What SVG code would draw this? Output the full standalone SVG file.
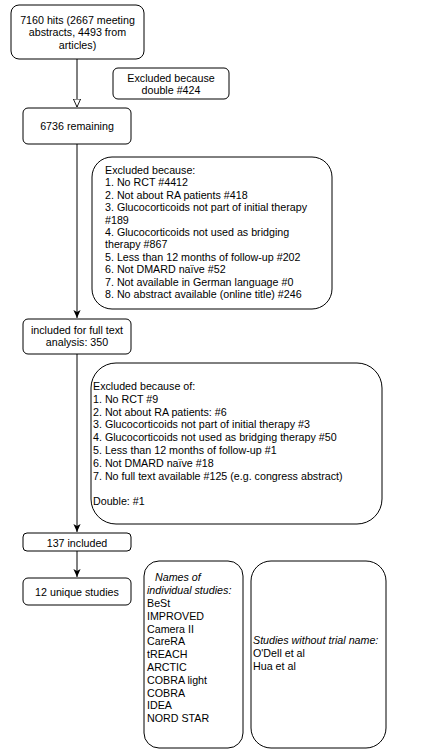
<svg xmlns="http://www.w3.org/2000/svg" width="431" height="755" viewBox="0 0 431 755">
<defs>
<style>
.b{fill:#fff;stroke:#000;stroke-width:1}
.t{font-family:"Liberation Sans",Arial,sans-serif;font-size:10.7px;fill:#000}
.c{text-anchor:middle}
.i{font-style:italic}
.l{fill:none;stroke:#000;stroke-width:1}
</style>
<marker id="open" viewBox="0 0 10 10" refX="10" refY="5" markerWidth="8" markerHeight="9" markerUnits="userSpaceOnUse" orient="auto">
<path d="M0,0.5 L10,5 L0,9.5 Z" fill="#fff" stroke="#000" stroke-width="1.1"/>
</marker>
<marker id="arr" viewBox="0 0 10 10" refX="10" refY="5" markerWidth="8" markerHeight="8" markerUnits="userSpaceOnUse" orient="auto">
<path d="M0,0.5 L10,5 L0,9.5 L2.5,5 Z" fill="#000"/>
</marker>
</defs>
<rect width="431" height="755" fill="#fff"/>
<g id="connectors">
<line class="l" x1="77" y1="59" x2="77" y2="107" marker-end="url(#open)"/>
<line class="l" x1="77" y1="144" x2="77" y2="318" marker-end="url(#arr)"/>
<line class="l" x1="77" y1="354" x2="77" y2="532" marker-end="url(#arr)"/>
<line class="l" x1="77" y1="551" x2="77" y2="577" marker-end="url(#arr)"/>
</g>
<g id="hits">
<rect class="b" x="11" y="5" width="133" height="54" rx="8"/>
<text class="t c" x="77.5" y="23.5">7160 hits (2667 meeting</text>
<text class="t c" x="77.5" y="36">abstracts, 4493 from</text>
<text class="t c" x="77.5" y="48.5">articles)</text>
</g>
<g id="excluded-double">
<rect class="b" x="113" y="68" width="116" height="31" rx="5"/>
<text class="t c" x="171" y="81.5">Excluded because</text>
<text class="t c" x="171" y="93.5">double #424</text>
</g>
<g id="remaining">
<rect class="b" x="23" y="108" width="108" height="36" rx="5"/>
<text class="t c" x="77" y="130">6736 remaining</text>
</g>
<g id="excluded-1">
<rect class="b" x="92" y="157" width="240" height="152" rx="20"/>
<text class="t" x="105" y="174">Excluded because:</text>
<text class="t" x="105" y="186.4">1. No RCT #4412</text>
<text class="t" x="105" y="198.8">2. Not about RA patients #418</text>
<text class="t" x="105" y="211.2">3. Glucocorticoids not part of initial therapy</text>
<text class="t" x="105" y="223.6">#189</text>
<text class="t" x="105" y="236">4. Glucocorticoids not used as bridging</text>
<text class="t" x="105" y="248.4">therapy #867</text>
<text class="t" x="105" y="260.8">5. Less than 12 months of follow-up #202</text>
<text class="t" x="105" y="273.2">6. Not DMARD naïve #52</text>
<text class="t" x="105" y="285.6">7. Not available in German language #0</text>
<text class="t" x="105" y="298">8. No abstract available (online title) #246</text>
</g>
<g id="fulltext">
<rect class="b" x="23" y="319" width="108" height="35" rx="5"/>
<text class="t c" x="77" y="333.5">included for full text</text>
<text class="t c" x="77" y="346">analysis: 350</text>
</g>
<g id="excluded-2">
<rect class="b" x="91" y="363" width="291" height="161" rx="25"/>
<text class="t" x="93" y="390">Excluded because of:</text>
<text class="t" x="93" y="402.8">1. No RCT #9</text>
<text class="t" x="93" y="415.6">2. Not about RA patients: #6</text>
<text class="t" x="93" y="428.4">3. Glucocorticoids not part of initial therapy #3</text>
<text class="t" x="93" y="441.2">4. Glucocorticoids not used as bridging therapy #50</text>
<text class="t" x="93" y="454">5. Less than 12 months of follow-up #1</text>
<text class="t" x="93" y="466.8">6. Not DMARD naïve #18</text>
<text class="t" x="93" y="479.6">7. No full text available #125 (e.g. congress abstract)</text>
<text class="t" x="93" y="505.2">Double: #1</text>
</g>
<g id="included">
<rect class="b" x="23" y="533" width="108" height="18" rx="4"/>
<text class="t c" x="77" y="546.5">137 included</text>
</g>
<g id="unique">
<rect class="b" x="23" y="578" width="108" height="27" rx="5"/>
<text class="t c" x="77" y="596">12 unique studies</text>
</g>
<g id="names">
<rect class="b" x="144" y="561" width="99" height="187" rx="15"/>
<text class="t i" x="155" y="580.5">Names of</text>
<text class="t i" x="147" y="594">individual studies:</text>
<text class="t" x="147" y="607">BeSt</text>
<text class="t" x="147" y="619.8">IMPROVED</text>
<text class="t" x="147" y="632.6">Camera II</text>
<text class="t" x="147" y="645.4">CareRA</text>
<text class="t" x="147" y="658.2">tREACH</text>
<text class="t" x="147" y="671">ARCTIC</text>
<text class="t" x="147" y="683.8">COBRA light</text>
<text class="t" x="147" y="696.6">COBRA</text>
<text class="t" x="147" y="709.4">IDEA</text>
<text class="t" x="147" y="722.2">NORD STAR</text>
</g>
<g id="no-name">
<rect class="b" x="251" y="561" width="135" height="187" rx="20"/>
<text class="t i" x="253" y="644">Studies without trial name:</text>
<text class="t" x="253" y="657">O'Dell et al</text>
<text class="t" x="253" y="670">Hua et al</text>
</g>
</svg>
